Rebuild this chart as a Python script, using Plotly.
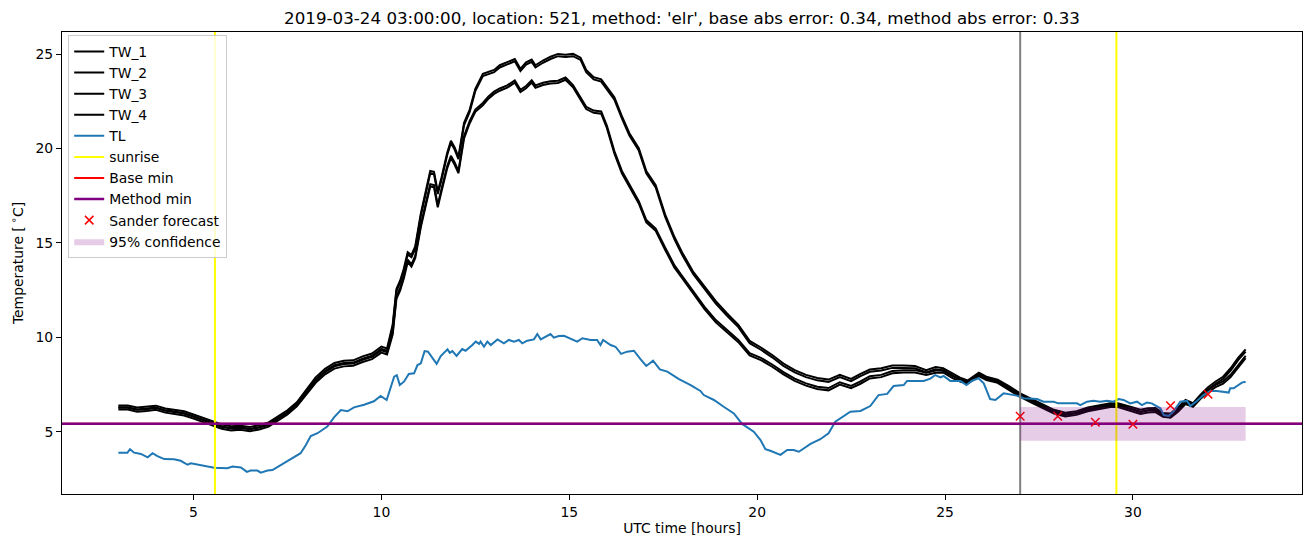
import plotly.graph_objects as go

# ---------------- data ----------------
tw_time = [3.0, 3.25, 3.5, 3.75, 4.0, 4.25, 4.5, 4.75, 5.0, 5.25, 5.5, 5.75, 6.0, 6.25, 6.5, 6.75,
           7.0, 7.25, 7.5, 7.75, 8.0, 8.25, 8.5, 8.75, 9.0, 9.25, 9.5, 9.75, 10.0, 10.15, 10.3, 10.4,
           10.5, 10.6, 10.7, 10.8, 10.9, 11.05, 11.2, 11.3, 11.4, 11.5, 11.6, 11.75, 11.85, 11.95,
           12.05, 12.2, 12.35, 12.5, 12.7, 12.85, 13.0, 13.15, 13.35, 13.55, 13.7, 13.85, 14.0, 14.1,
           14.3, 14.5, 14.7, 14.9, 15.1, 15.3, 15.45, 15.65, 15.85, 16.0, 16.2, 16.4, 16.6, 16.85,
           17.05, 17.3, 17.55, 17.8, 18.0, 18.3, 18.6, 18.9, 19.2, 19.5, 19.8, 20.1, 20.4, 20.7,
           21.0, 21.3, 21.6, 21.9, 22.2, 22.5, 22.75, 23.0, 23.3, 23.6, 23.9, 24.2, 24.5, 24.75,
           24.95, 25.2, 25.4, 25.6, 25.9, 26.1, 26.4, 26.7, 27.0, 27.3, 27.6, 27.9, 28.2, 28.5,
           28.8, 29.1, 29.4, 29.6, 29.8, 30.0, 30.2, 30.4, 30.6, 30.8, 31.0, 31.2, 31.4, 31.6,
           31.8, 32.0, 32.2, 32.4, 32.6, 32.8, 33.0]

tw_1 = [6.39, 6.39, 6.28, 6.31, 6.38, 6.23, 6.16, 6.08, 5.91, 5.73, 5.54, 5.38, 5.29, 5.32, 5.25, 5.34,
        5.49, 5.79, 6.13, 6.56, 7.21, 7.88, 8.33, 8.64, 8.76, 8.78, 8.99, 9.14, 9.51, 9.41, 10.66, 12.56,
        13.01, 13.66, 14.51, 14.36, 14.81, 16.56, 17.91, 18.81, 18.76, 17.71, 18.46, 19.76, 20.41, 20.06,
        19.56, 21.36, 22.06, 23.16, 23.96, 24.06, 24.16, 24.41, 24.56, 24.74, 24.22, 24.56, 24.71, 24.41,
        24.66, 24.86, 25.01, 24.96, 25.01, 24.81, 24.16, 23.78, 23.66, 23.26, 22.71, 21.71, 20.81, 20.01,
        18.81, 18.06, 16.51, 15.31, 14.51, 13.46, 12.66, 11.91, 11.26, 10.66, 9.81, 9.46, 9.06, 8.61,
        8.26, 8.01, 7.84, 7.76, 8.01, 7.80, 8.06, 8.29, 8.36, 8.50, 8.50, 8.48, 8.26, 8.42,
        8.36, 8.06, 7.86, 7.71, 8.12, 7.91, 7.76, 7.41, 7.03, 6.74, 6.44, 6.16, 6.01, 6.09,
        6.28, 6.38, 6.51, 6.51, 6.41, 6.28, 6.16, 6.24, 6.26, 5.99, 5.96, 6.28, 6.68, 6.51,
        6.96, 7.36, 7.66, 7.91, 8.36, 8.91, 9.36]

tw_2 = [6.27, 6.27, 6.16, 6.19, 6.26, 6.11, 6.04, 5.96, 5.79, 5.61, 5.42, 5.26, 5.17, 5.20, 5.13, 5.22,
        5.37, 5.67, 6.01, 6.44, 7.09, 7.76, 8.21, 8.52, 8.64, 8.66, 8.87, 9.02, 9.39, 9.29, 10.54, 12.44,
        12.89, 13.54, 14.39, 14.24, 14.69, 16.44, 17.79, 18.69, 18.64, 17.59, 18.34, 19.64, 20.29, 19.94,
        19.44, 21.24, 21.94, 23.04, 23.84, 23.94, 24.04, 24.29, 24.44, 24.62, 24.10, 24.44, 24.59, 24.29,
        24.54, 24.74, 24.89, 24.84, 24.89, 24.69, 24.04, 23.66, 23.54, 23.14, 22.59, 21.59, 20.69, 19.89,
        18.69, 17.94, 16.39, 15.19, 14.39, 13.34, 12.54, 11.79, 11.14, 10.54, 9.69, 9.34, 8.94, 8.49,
        8.14, 7.89, 7.72, 7.64, 7.89, 7.68, 7.94, 8.17, 8.24, 8.38, 8.38, 8.36, 8.14, 8.30,
        8.24, 7.94, 7.74, 7.59, 8.00, 7.79, 7.64, 7.29, 6.91, 6.62, 6.32, 6.04, 5.89, 5.97,
        6.16, 6.26, 6.39, 6.39, 6.29, 6.16, 6.04, 6.12, 6.14, 5.87, 5.84, 6.16, 6.56, 6.39,
        6.84, 7.24, 7.54, 7.79, 8.24, 8.79, 9.24]

tw_3 = [6.29, 6.29, 6.18, 6.21, 6.28, 6.13, 6.06, 5.98, 5.81, 5.63, 5.44, 5.28, 5.19, 5.22, 5.15, 5.24,
        5.39, 5.69, 6.03, 6.46, 7.06, 7.71, 8.16, 8.46, 8.58, 8.61, 8.81, 8.96, 9.31, 9.21, 10.26, 12.16,
        12.61, 13.26, 14.11, 13.86, 14.31, 15.96, 17.26, 18.11, 18.06, 17.01, 17.86, 19.06, 19.61, 19.26,
        18.81, 20.66, 21.46, 22.06, 22.41, 22.76, 23.01, 23.18, 23.34, 23.61, 23.11, 23.31, 23.61, 23.34,
        23.48, 23.56, 23.59, 23.76, 23.36, 22.68, 22.21, 22.01, 21.96, 21.21, 19.86, 18.81, 18.11, 17.21,
        16.21, 15.76, 14.76, 13.81, 13.26, 12.41, 11.61, 10.91, 10.36, 9.86, 9.16, 8.91, 8.56, 8.16,
        7.81, 7.56, 7.38, 7.31, 7.62, 7.42, 7.66, 7.94, 8.01, 8.21, 8.26, 8.26, 8.12, 8.24,
        8.26, 7.96, 7.78, 7.66, 8.06, 7.86, 7.71, 7.34, 6.96, 6.66, 6.36, 6.08, 5.93, 6.01,
        6.20, 6.30, 6.43, 6.43, 6.31, 6.18, 6.06, 6.14, 6.16, 5.91, 5.86, 6.18, 6.58, 6.44,
        6.86, 7.21, 7.48, 7.66, 8.01, 8.51, 9.01]

tw_4 = [6.17, 6.17, 6.06, 6.09, 6.16, 6.01, 5.94, 5.86, 5.69, 5.51, 5.32, 5.16, 5.07, 5.10, 5.03, 5.12,
        5.27, 5.57, 5.91, 6.34, 6.94, 7.59, 8.04, 8.34, 8.46, 8.49, 8.69, 8.84, 9.19, 9.09, 10.14, 12.04,
        12.49, 13.14, 13.99, 13.74, 14.19, 15.84, 17.14, 17.99, 17.94, 16.89, 17.74, 18.94, 19.49, 19.14,
        18.69, 20.54, 21.34, 21.94, 22.29, 22.64, 22.89, 23.06, 23.22, 23.49, 22.99, 23.19, 23.49, 23.22,
        23.36, 23.44, 23.47, 23.64, 23.24, 22.56, 22.09, 21.89, 21.84, 21.09, 19.74, 18.69, 17.99, 17.09,
        16.09, 15.64, 14.64, 13.69, 13.14, 12.29, 11.49, 10.79, 10.24, 9.74, 9.04, 8.79, 8.44, 8.04,
        7.69, 7.44, 7.26, 7.19, 7.50, 7.30, 7.54, 7.82, 7.89, 8.09, 8.14, 8.14, 8.00, 8.12,
        8.14, 7.84, 7.66, 7.54, 7.94, 7.74, 7.59, 7.22, 6.84, 6.54, 6.24, 5.96, 5.81, 5.89,
        6.08, 6.18, 6.31, 6.31, 6.19, 6.06, 5.94, 6.02, 6.04, 5.79, 5.74, 6.06, 6.46, 6.32,
        6.74, 7.09, 7.36, 7.54, 7.89, 8.39, 8.89]

tl_time = [3.0, 3.24, 3.31, 3.42, 3.6, 3.78, 3.91, 4.04, 4.22, 4.48, 4.66, 4.84, 4.93, 5.11, 5.28, 5.55,
           5.9, 6.04, 6.26, 6.42, 6.52, 6.7, 6.79, 6.97, 7.1, 7.32, 7.59, 7.85, 7.99, 8.12, 8.3, 8.56,
           8.74, 8.92, 9.1, 9.27, 9.54, 9.8, 9.98, 10.14, 10.34, 10.41, 10.49, 10.6, 10.73, 10.87, 10.96,
           11.05, 11.15, 11.24, 11.47, 11.58, 11.76, 11.82, 11.89, 12.0, 12.15, 12.24, 12.42, 12.51,
           12.6, 12.64, 12.73, 12.82, 12.91, 13.09, 13.26, 13.39, 13.53, 13.66, 13.75, 13.88, 14.06,
           14.15, 14.24, 14.37, 14.5, 14.59, 14.72, 14.86, 15.03, 15.21, 15.35, 15.57, 15.74, 15.83,
           15.9, 16.1, 16.23, 16.38, 16.54, 16.72, 16.9, 17.05, 17.23, 17.41, 17.61, 17.92, 18.23,
           18.49, 18.58, 18.85, 19.11, 19.38, 19.6, 19.91, 20.09, 20.22, 20.35, 20.62, 20.8, 20.97,
           21.11, 21.42, 21.68, 21.9, 22.08, 22.3, 22.48, 22.75, 23.01, 23.23, 23.46, 23.63, 23.9,
           23.99, 24.43, 24.61, 24.74, 24.88, 24.96, 25.14, 25.41, 25.57, 25.72, 25.89, 26.03, 26.2,
           26.34, 26.56, 26.74, 26.91, 27.09, 27.27, 27.45, 27.62, 27.89, 28.02, 28.51, 28.6, 28.78,
           28.95, 29.13, 29.31, 29.48, 29.62, 29.75, 29.93, 30.11, 30.24, 30.37, 30.5, 30.64, 30.73,
           30.82, 30.95, 31.08, 31.26, 31.44, 31.53, 31.71, 31.88, 32.06, 32.24, 32.55, 32.59, 32.68,
           32.9, 33.0]

tl_values = [3.88, 3.88, 4.07, 3.89, 3.82, 3.64, 3.86, 3.71, 3.55, 3.54, 3.46, 3.25, 3.33, 3.25, 3.18, 3.09,
             3.06, 3.15, 3.11, 2.87, 2.94, 2.94, 2.83, 2.94, 2.97, 3.24, 3.54, 3.86, 4.30, 4.77, 4.92, 5.27,
             5.76, 6.15, 6.08, 6.29, 6.43, 6.61, 6.89, 6.68, 7.91, 7.99, 7.47, 7.65, 8.06, 8.09, 8.53,
             8.62, 9.27, 9.24, 8.59, 9.01, 9.36, 9.18, 9.27, 9.01, 9.38, 9.29, 9.59, 9.77,
             9.65, 9.77, 9.50, 9.77, 9.59, 9.89, 9.68, 9.86, 9.77, 9.86, 9.68, 9.82, 9.89,
             10.17, 9.89, 10.03, 10.17, 9.98, 10.07, 10.08, 9.95, 9.77, 9.95, 9.86, 9.86, 9.59,
             9.86, 9.59, 9.50, 9.12, 9.24, 9.29, 8.83, 8.48, 8.76, 8.30, 8.18, 7.79, 7.47,
             7.16, 6.94, 6.68, 6.32, 5.97, 5.41, 5.00, 4.56, 4.07, 3.99, 3.77, 4.03, 4.03,
             3.94, 4.35, 4.60, 4.92, 5.53, 5.83, 6.06, 6.10, 6.36, 6.94, 7.00, 7.42, 7.47,
             7.69, 7.69, 7.81, 8.00, 7.88, 7.95, 7.69, 7.69, 7.47, 7.70, 7.83, 7.56, 6.73,
             6.68, 7.03, 6.98, 6.91, 6.77, 6.77, 6.73, 6.59, 6.59, 6.50, 6.50, 6.41, 6.59,
             6.64, 6.59, 6.64, 6.59, 6.73, 6.68, 6.50, 6.59, 6.41, 6.54, 6.50, 6.32, 6.24,
             5.88, 5.83, 6.06, 6.59, 6.63, 6.36, 6.64, 6.94, 7.16, 7.16, 7.07, 7.30, 7.30,
             7.60, 7.65]

sunrise_times = [5.57, 29.56]
forecast_start = 27.0
base_min = 5.42
method_min = 5.42

sander_times = [27, 28, 29, 30, 31, 32]
sander_values = [5.82, 5.82, 5.50, 5.39, 6.37, 6.98]

conf_times = [27.0, 33.0]
conf_low = [4.52, 4.52]
conf_high = [6.31, 6.31]

x_range = [1.5, 34.5]
y_range = [1.70, 26.17]

title_text = "2019-03-24 03:00:00, location: 521, method: 'elr', base abs error: 0.34, method abs error: 0.33"

# ---------------- figure ----------------
FONT = "DejaVu Sans"
FS = 13.9
LW = 2.0
fig = go.Figure()

for name, vals in [("TW_1", tw_1), ("TW_2", tw_2), ("TW_3", tw_3), ("TW_4", tw_4)]:
    fig.add_trace(go.Scatter(x=tw_time, y=vals, mode="lines", name=name,
                             line=dict(color="black", width=LW), legendgroup=name))

fig.add_trace(go.Scatter(x=tl_time, y=tl_values, mode="lines", name="TL",
                         line=dict(color="#1f77b4", width=LW), legendgroup="TL"))

sx, sy = [], []
for s in sunrise_times:
    sx += [s, s, None]
    sy += [y_range[0], y_range[1], None]
fig.add_trace(go.Scatter(x=sx, y=sy, mode="lines", name="sunrise",
                         line=dict(color="#ffff00", width=LW), legendgroup="sunrise"))

fig.add_trace(go.Scatter(x=[forecast_start, forecast_start], y=y_range, mode="lines",
                         line=dict(color="#808080", width=LW), showlegend=False, hoverinfo="skip"))

fig.add_trace(go.Scatter(x=x_range, y=[base_min, base_min], mode="lines", name="Base min",
                         line=dict(color="#ff0000", width=LW), legendgroup="base"))
fig.add_trace(go.Scatter(x=x_range, y=[method_min, method_min], mode="lines", name="Method min",
                         line=dict(color="#800080", width=2.6), legendgroup="method"))

fig.add_trace(go.Scatter(x=sander_times, y=sander_values, mode="markers", name="Sander forecast",
                         marker=dict(symbol="x-thin", size=8.5, line=dict(color="#ff0000", width=1.5)),
                         legendgroup="sander"))

fig.add_trace(go.Scatter(x=conf_times, y=conf_low, mode="lines", line=dict(width=0),
                         showlegend=False, hoverinfo="skip", legendgroup="conf"))
fig.add_trace(go.Scatter(x=conf_times, y=conf_high, mode="lines", line=dict(width=0),
                         fill="tonexty", fillcolor="rgba(128,0,128,0.2)", name="95% confidence",
                         legendgroup="conf"))

axis_common = dict(showline=True, mirror=True, linecolor="black", linewidth=1,
                   ticks="outside", ticklen=5, tickwidth=1, tickcolor="black",
                   showgrid=False, zeroline=False,
                   tickfont=dict(family=FONT, size=FS, color="black"))

fig.update_xaxes(range=x_range, tickvals=[5, 10, 15, 20, 25, 30],
                 title=dict(text="UTC time [hours]", font=dict(family=FONT, size=FS, color="black"),
                            standoff=4),
                 **axis_common)
fig.update_yaxes(range=y_range, tickvals=[5, 10, 15, 20, 25],
                 title=dict(text="Temperature [<sup> ∘</sup>C]",
                            font=dict(family=FONT, size=FS, color="black"), standoff=8),
                 **axis_common)

fig.update_layout(
    width=1310, height=547,
    margin=dict(l=62, r=8, t=32, b=53),
    paper_bgcolor="white", plot_bgcolor="white",
    font=dict(family=FONT, size=FS, color="black"),
    title=dict(text=title_text, x=0.5, xref="paper", y=1 - 18 / 547, yref="container",
               yanchor="middle", xanchor="center",
               font=dict(family=FONT, size=16.7, color="black")),
    legend=dict(x=0.005, y=0.9935, xanchor="left", yanchor="top",
                bgcolor="rgba(255,255,255,0.8)", bordercolor="#cccccc", borderwidth=1,
                font=dict(family=FONT, size=FS, color="black"),
                tracegroupgap=0, itemwidth=30, traceorder="normal"),
    showlegend=True,
)

fig.write_html("out.html")
